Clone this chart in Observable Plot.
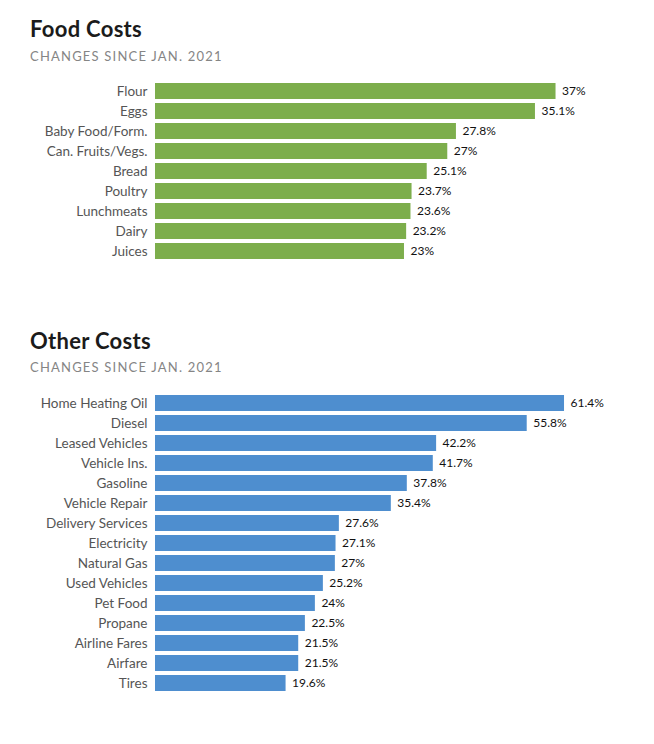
<!DOCTYPE html>
<html>
<head>
<meta charset="utf-8">
<script src="https://cdn.jsdelivr.net/npm/d3@7"></script>
<script src="https://cdn.jsdelivr.net/npm/@observablehq/plot@0.6"></script>
<style>
  html, body { margin: 0; padding: 0; background: #fff; }
  #page { position: relative; width: 654px; height: 744px; font-family: Lato, "Noto Sans", sans-serif; }
  .title { position: absolute; left: 30px; font-size: 22px; line-height: 22px; font-weight: 700; letter-spacing: 0.3px; color: #1b1b1b; margin: 0; }
  .subtitle { position: absolute; left: 30px; font-size: 13px; line-height: 13px; letter-spacing: 1.2px; color: #858585; margin: 0; }
  .chart { position: absolute; left: 0; }
</style>
</head>
<body>
<div id="page">
  <div class="title" style="top:18px">Food Costs</div>
  <div class="subtitle" style="top:50px">CHANGES SINCE JAN. 2021</div>
  <div class="chart" id="food" style="top:70px"></div>
  <div class="title" style="top:330px">Other Costs</div>
  <div class="subtitle" style="top:361px">CHANGES SINCE JAN. 2021</div>
  <div class="chart" id="other" style="top:380px"></div>
</div>
<script>
// Price change since January 2021, percent
const foodItems = ["Flour", "Eggs", "Baby Food/Form.", "Can. Fruits/Vegs.", "Bread", "Poultry", "Lunchmeats", "Dairy", "Juices"];
const foodValues = [37, 35.1, 27.8, 27, 25.1, 23.7, 23.6, 23.2, 23];

const otherItems = ["Home Heating Oil", "Diesel", "Leased Vehicles", "Vehicle Ins.", "Gasoline", "Vehicle Repair", "Delivery Services", "Electricity", "Natural Gas", "Used Vehicles", "Pet Food", "Propane", "Airline Fares", "Airfare", "Tires"];
const otherValues = [61.4, 55.8, 42.2, 41.7, 37.8, 35.4, 27.6, 27.1, 27, 25.2, 24, 22.5, 21.5, 21.5, 19.6];

function barChart(items, values, xMax, color, marginTop) {
  const data = items.map((item, i) => ({item, value: values[i]}));
  const bandHeight = 20 * (items.length + 0.2);
  return Plot.plot({
    width: 654,
    height: Math.round(marginTop + bandHeight + 5),
    marginLeft: 155,
    marginRight: 66,
    marginTop,
    marginBottom: 5,
    style: {fontFamily: "Lato, 'Noto Sans', sans-serif", color: "#555", background: "transparent"},
    x: {domain: [0, xMax], axis: null},
    y: {domain: items, padding: 0.2, round: false, axis: null},
    marks: [
      Plot.barX(data, {x: "value", y: "item", fill: color}),
      Plot.axisY({tickSize: 0, tickPadding: 8, fontSize: 13.5, label: null, fill: "#555"}),
      Plot.text(data, {x: "value", y: "item", text: d => d.value + "%", textAnchor: "start", dx: 6, fontSize: 12, fill: "#111"})
    ]
  });
}

document.getElementById("food").append(barChart(foodItems, foodValues, 40, "#7dae4c", 9));
document.getElementById("other").append(barChart(otherItems, otherValues, 65, "#4e8ecf", 11));
</script>
</body>
</html>
